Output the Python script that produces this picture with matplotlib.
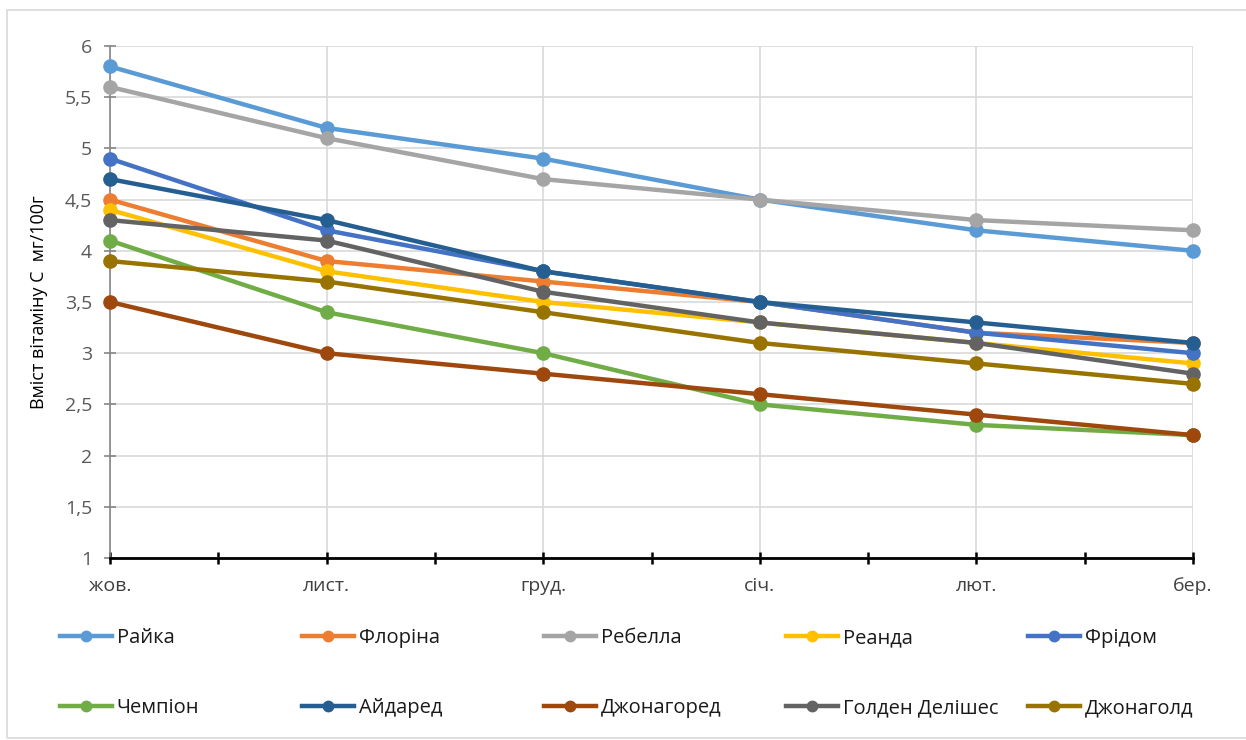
import matplotlib
matplotlib.use("Agg")
import matplotlib.pyplot as plt
from matplotlib.lines import Line2D
from matplotlib.patches import Rectangle
from matplotlib.ticker import FuncFormatter, MultipleLocator

months = ["жов.", "лист.", "груд.", "січ.", "лют.", "бер."]
series_names = ["Райка", "Флоріна", "Ребелла", "Реанда", "Фрідом",
                "Чемпіон", "Айдаред", "Джонагоред", "Голден Делішес", "Джонаголд"]
raika = [5.8, 5.2, 4.9, 4.5, 4.2, 4.0]
florina = [4.5, 3.9, 3.7, 3.5, 3.2, 3.1]
rebella = [5.6, 5.1, 4.7, 4.5, 4.3, 4.2]
reanda = [4.4, 3.8, 3.5, 3.3, 3.1, 2.9]
fridom = [4.9, 4.2, 3.8, 3.5, 3.2, 3.0]
chempion = [4.1, 3.4, 3.0, 2.5, 2.3, 2.2]
aidared = [4.7, 4.3, 3.8, 3.5, 3.3, 3.1]
dzhonagored = [3.5, 3.0, 2.8, 2.6, 2.4, 2.2]
golden = [4.3, 4.1, 3.6, 3.3, 3.1, 2.8]
dzhonagold = [3.9, 3.7, 3.4, 3.1, 2.9, 2.7]
values = [raika, florina, rebella, reanda, fridom,
          chempion, aidared, dzhonagored, golden, dzhonagold]
colors = ["#5B9BD5", "#ED7D31", "#A5A5A5", "#FFC000", "#4472C4",
          "#70AD47", "#255E91", "#9E480E", "#636363", "#997300"]
y_label = "Вміст вітаміну С  мг/100г"

plt.rcParams['font.family'] = ['Open Sans', 'DejaVu Sans']

W, H = 1246, 740
fig = plt.figure(figsize=(W / 100, H / 100), dpi=100)
fig.patch.set_facecolor("white")

# chart frame
fig.add_artist(Rectangle((7 / W, 2 / H), 1.2, (H - 12) / H, transform=fig.transFigure,
                         fill=False, edgecolor="#D9D9D9", linewidth=1.2))

x0, x1 = 110, 1193
y0, y1 = 46, 558
ax = fig.add_axes([x0 / W, 1 - y1 / H, (x1 - x0) / W, (y1 - y0) / H])
xs = list(range(len(months)))

for name, vals, c in zip(series_names, values, colors):
    ax.plot(xs, vals, color=c, linewidth=3.2, marker="o", markersize=9.5,
            solid_capstyle="round", label=name, zorder=3, clip_on=False)

ax.set_xlim(0, len(months) - 1)
ax.set_ylim(1, 6)
ax.yaxis.set_major_locator(MultipleLocator(0.5))
ax.yaxis.set_major_formatter(FuncFormatter(lambda v, p: (f"{v:g}").replace(".", ",")))
ax.set_xticks(xs)
ax.set_xticklabels(months)
ax.set_xticks([i + 0.5 for i in xs[:-1]], minor=True)

ax.grid(True, which="major", color="#D9D9D9", linewidth=1.2, zorder=0)
for s in ["top", "right"]:
    ax.spines[s].set_visible(False)
ax.spines["left"].set_color("#868686")
ax.spines["left"].set_linewidth(1.2)
ax.spines["bottom"].set_color("black")
ax.spines["bottom"].set_linewidth(2)

ax.tick_params(axis="y", which="major", direction="inout", length=8, width=1.2,
               color="#868686", labelsize=14, labelcolor="#595959", pad=9)
ax.tick_params(axis="x", which="both", direction="inout", length=8, width=1.8,
               color="black", labelsize=14, labelcolor="#404040", pad=10)

ax.set_ylabel(y_label, fontsize=13, color="black")
ax.yaxis.set_label_coords(-0.057, 0.5)

# legend: 2 rows of 5 entries
col_x = [60, 302, 544, 786, 1028]
row_y = [638, 708]
for i, (name, c) in enumerate(zip(series_names, colors)):
    r, cidx = divmod(i, 5)
    h = Line2D([], [], color=c, linewidth=3.2, marker="o", markersize=7.5)
    fig.legend(handles=[h], labels=[name], loc="center left",
               bbox_to_anchor=(col_x[cidx] / W, 1 - row_y[r] / H),
               frameon=False, borderpad=0, borderaxespad=0,
               handlelength=2.6, handletextpad=0.22, fontsize=14.5,
               labelcolor="#1a1a1a")

fig.savefig("out.png", dpi=100, facecolor="white")
